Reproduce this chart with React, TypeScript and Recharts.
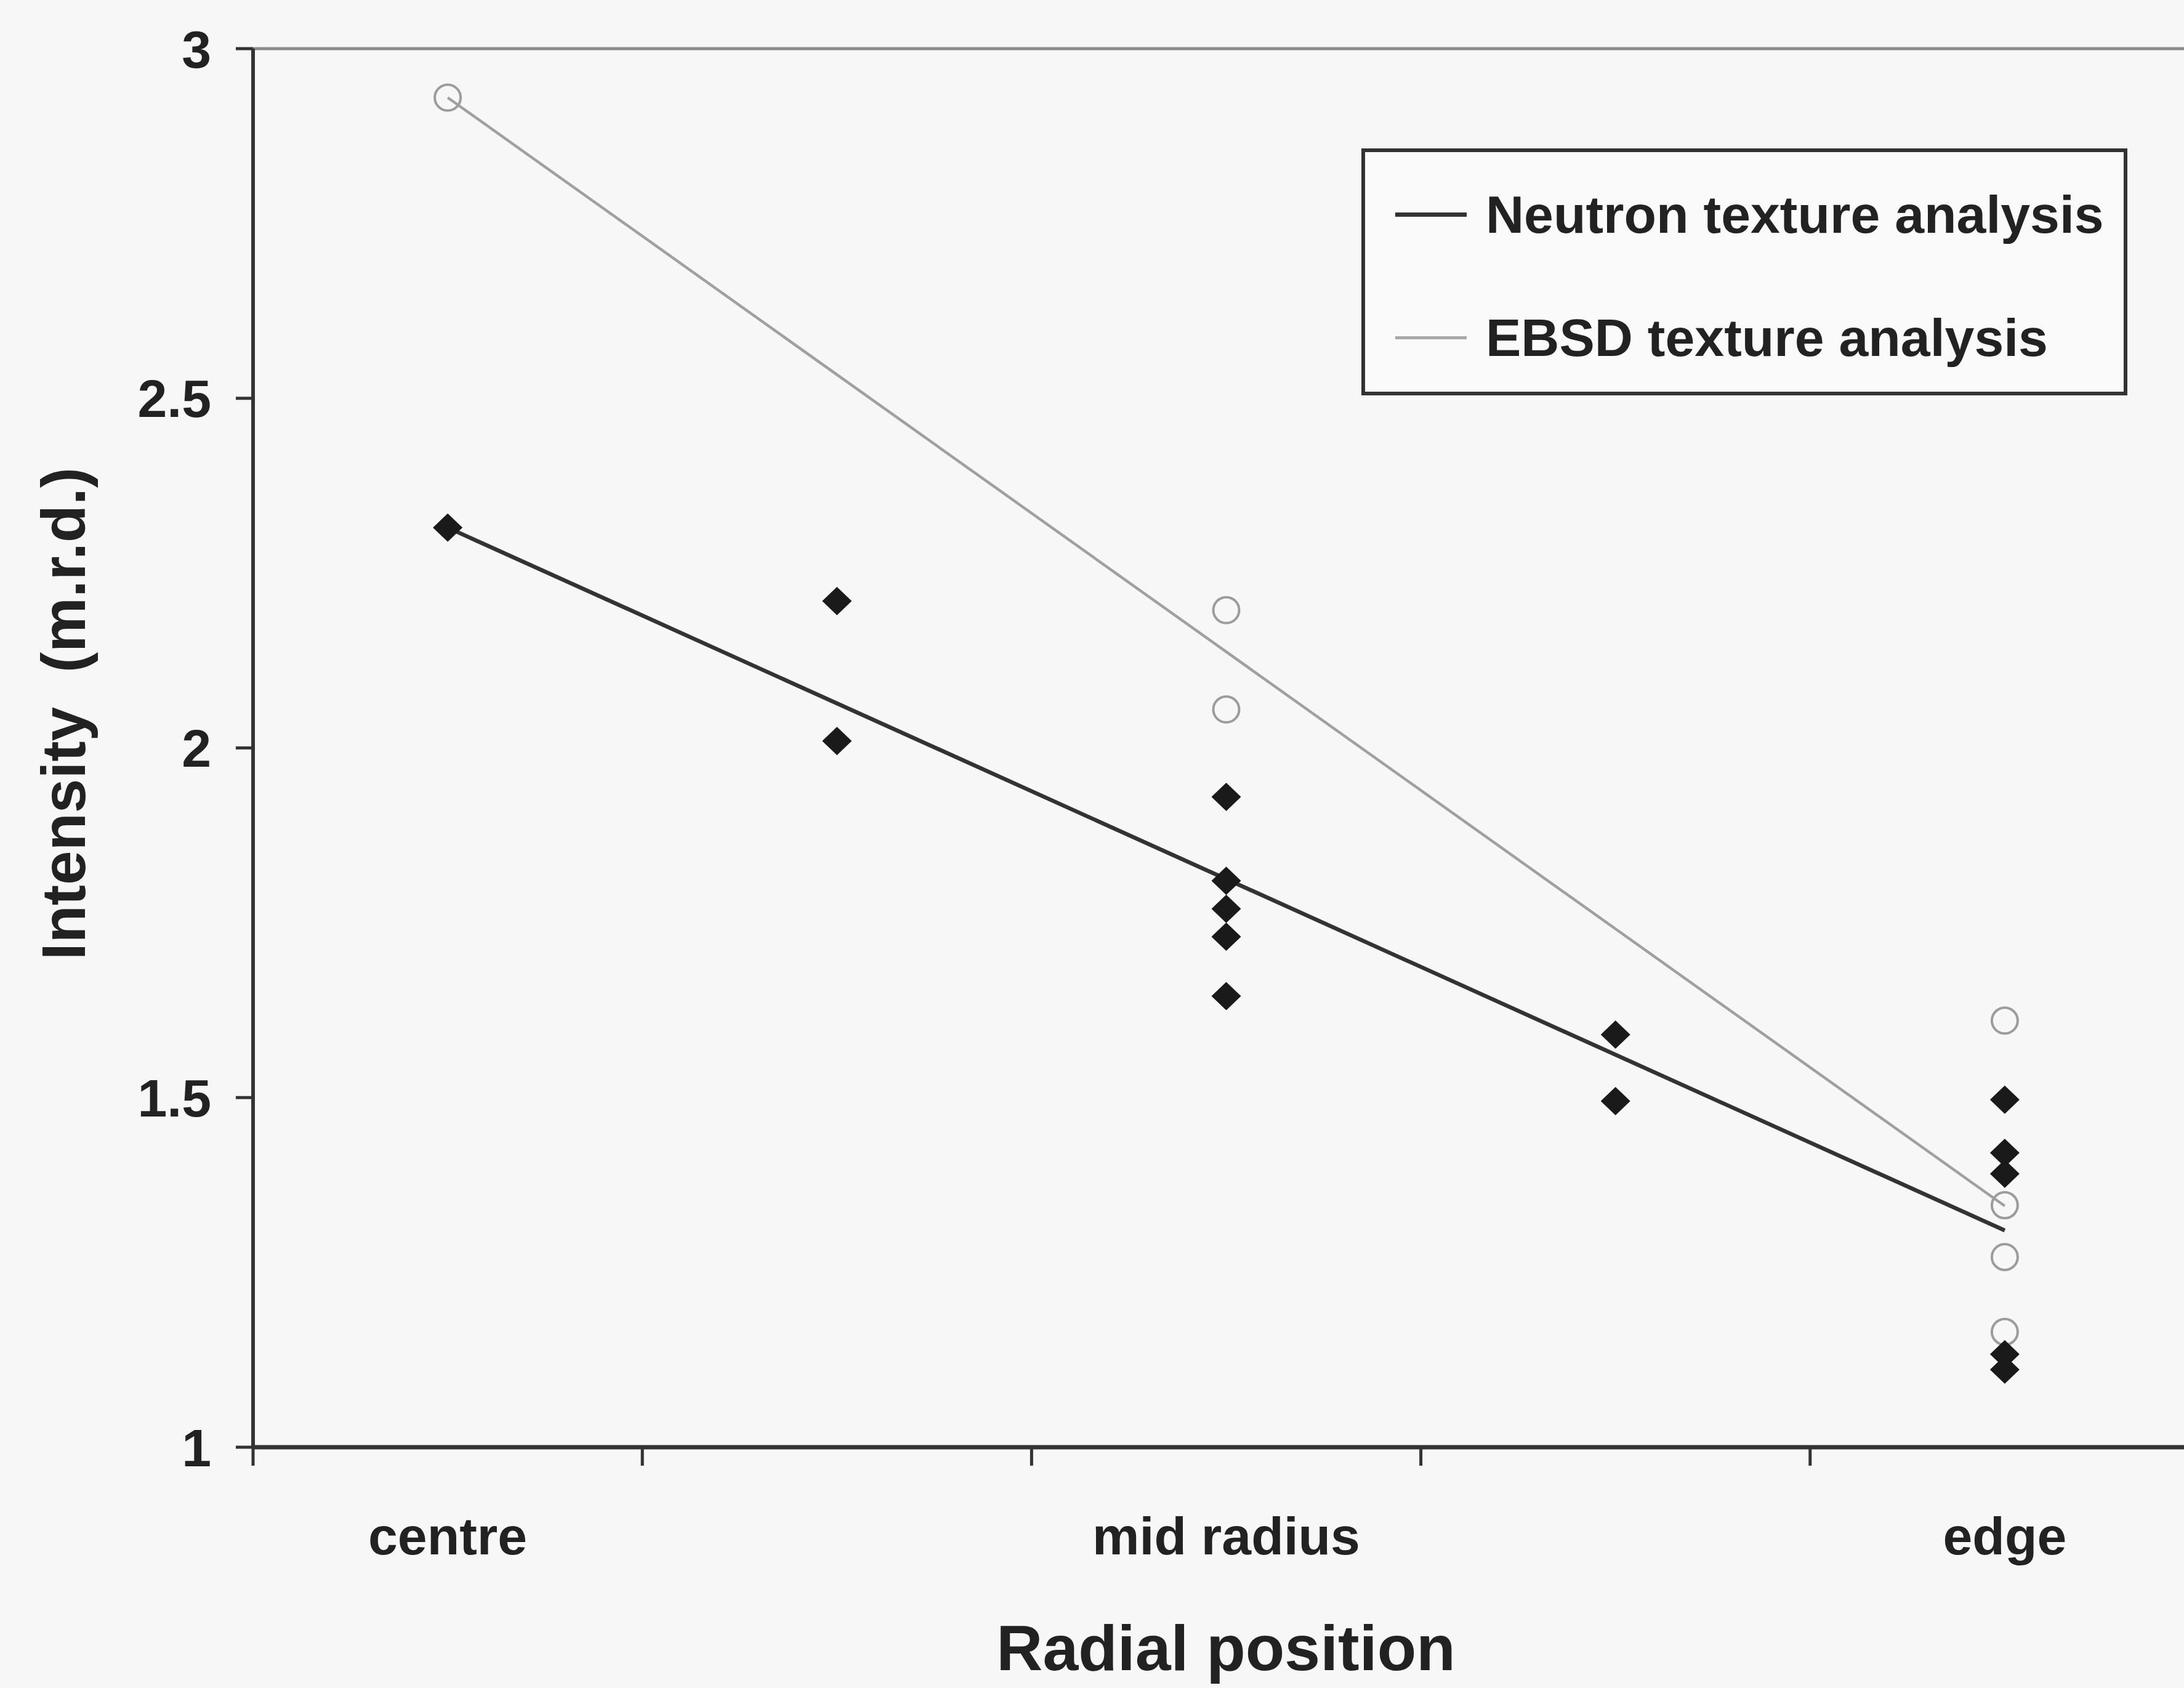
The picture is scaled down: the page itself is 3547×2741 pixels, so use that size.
import { ComposedChart, Line, Scatter, XAxis, YAxis, ReferenceLine, Legend } from 'recharts'

const FONT = '"Liberation Sans", Arial, sans-serif'

// category slots along the radial axis (Excel style: labels between tick marks)
const categories = ['centre', '', 'mid radius', '', 'edge']
const categoryPositions = [0.5, 1.5, 2.5, 3.5, 4.5]
const xTicks = [0, 0.5, 1, 2, 2.5, 3, 4, 4.5, 5]
const yTicks = [1, 1.5, 2, 2.5, 3]

// measured intensities per slot
const neutronValues = [
    [2.315],
    [2.21, 2.01],
    [1.93, 1.81, 1.77, 1.73, 1.645],
    [1.59, 1.495],
    [1.497, 1.421, 1.391, 1.133, 1.111],
]
const ebsdValues = [
    [2.93],
    [],
    [2.197, 2.055],
    [],
    [1.61, 1.346, 1.272, 1.165],
]

// trend lines, centre -> edge
const trendPositions = [0.5, 4.5]
const neutronTrend = [2.315, 1.31]
const ebsdTrend = [2.93, 1.345]

const toPoints = (values: number[][]) =>
    categoryPositions.flatMap((x, i) => values[i].map((y) => ({ x, y })))

const neutronPoints = toPoints(neutronValues)
const ebsdPoints = toPoints(ebsdValues)
const neutronLine = trendPositions.map((x, i) => ({ x, y: neutronTrend[i] }))
const ebsdLine = trendPositions.map((x, i) => ({ x, y: ebsdTrend[i] }))

const legendItems = [
    { label: 'Neutron texture analysis', color: '#333', width: 7 },
    { label: 'EBSD texture analysis', color: '#a8a8a8', width: 5 },
]

function Diamond(props: any) {
    const { cx, cy } = props
    return (
        <polygon
            points={`${cx},${cy - 23} ${cx + 24},${cy} ${cx},${cy + 23} ${cx - 24},${cy}`}
            fill="#1a1a1a"
        />
    )
}

function OpenCircle(props: any) {
    const { cx, cy } = props
    return <circle cx={cx} cy={cy} r={21} fill="none" stroke="#9c9c9c" strokeWidth={4} />
}

function XTick(props: any) {
    const { x, y, payload } = props
    const v = payload.value
    if (Number.isInteger(v)) {
        return <line x1={x} y1={y} x2={x} y2={y + 30} stroke="#333" strokeWidth={5} />
    }
    const idx = categoryPositions.indexOf(v)
    return (
        <text x={x} y={y + 174} textAnchor="middle" fontSize={86} fontWeight={700} fill="#222" fontFamily={FONT}>
            {categories[idx]}
        </text>
    )
}

function LegendBox() {
    return (
        <div
            style={{
                boxSizing: 'border-box',
                width: '100%',
                height: '100%',
                border: '6px solid #333',
                background: '#fafafa',
                position: 'relative',
                fontFamily: FONT,
            }}
        >
            {legendItems.map((item, i) => (
                <div
                    key={item.label}
                    style={{
                        position: 'absolute',
                        left: 49,
                        top: 101 + i * 200 - 50,
                        height: 100,
                        display: 'flex',
                        alignItems: 'center',
                        whiteSpace: 'nowrap',
                    }}
                >
                    <div style={{ width: 116, height: item.width, background: item.color, marginRight: 31 }} />
                    <span style={{ fontSize: 86, fontWeight: 700, color: '#222' }}>{item.label}</span>
                </div>
            ))}
        </div>
    )
}

export default function App() {
    return (
        <div
            style={{
                position: 'fixed',
                left: 0,
                top: 0,
                width: 3547,
                height: 2741,
                overflow: 'hidden',
                background: '#f7f7f7',
            }}
        >
            <ComposedChart width={3600} height={2741} margin={{ top: 79, right: 28, bottom: 91, left: 111 }}>
                <XAxis
                    type="number"
                    dataKey="x"
                    domain={[0, 5]}
                    ticks={xTicks}
                    interval={0}
                    height={300}
                    tickLine={false}
                    tickSize={0}
                    tickMargin={0}
                    tick={<XTick />}
                    axisLine={{ stroke: '#333', strokeWidth: 7 }}
                    label={{
                        content: () => (
                            <text x={1991} y={2712} textAnchor="middle" fontSize={104} fontWeight={700} fill="#222" fontFamily={FONT}>
                                Radial position
                            </text>
                        ),
                    }}
                />
                <YAxis
                    type="number"
                    dataKey="y"
                    domain={[1, 3]}
                    ticks={yTicks}
                    interval={0}
                    width={300}
                    tickSize={28}
                    tickMargin={40}
                    tickLine={{ stroke: '#333', strokeWidth: 5 }}
                    axisLine={{ stroke: '#333', strokeWidth: 6 }}
                    tick={{ fontSize: 86, fontWeight: 700, fill: '#222', fontFamily: FONT }}
                    label={{
                        content: () => (
                            <text
                                transform="translate(138,1159) rotate(-90)"
                                textAnchor="middle"
                                fontSize={100}
                                fontWeight={700}
                                fill="#222"
                                fontFamily={FONT}
                            >
                                {'Intensity\u00a0\u00a0(m.r.d.)'}
                            </text>
                        ),
                    }}
                />
                <ReferenceLine y={3} stroke="#8a8a8a" strokeWidth={5} />
                <Legend
                    layout="horizontal"
                    verticalAlign="middle"
                    align="center"
                    content={() => <LegendBox />}
                    wrapperStyle={{ left: 2211, top: 241, width: 1244, height: 401, margin: 0 }}
                />
                <Line
                    data={ebsdLine}
                    dataKey="y"
                    name="EBSD texture analysis"
                    stroke="#a0a0a0"
                    strokeWidth={4.5}
                    dot={false}
                    isAnimationActive={false}
                />
                <Line
                    data={neutronLine}
                    dataKey="y"
                    name="Neutron texture analysis"
                    stroke="#333"
                    strokeWidth={6.5}
                    dot={false}
                    isAnimationActive={false}
                />
                <Scatter data={ebsdPoints} dataKey="y" shape={<OpenCircle />} legendType="none" isAnimationActive={false} />
                <Scatter data={neutronPoints} dataKey="y" shape={<Diamond />} legendType="none" isAnimationActive={false} />
            </ComposedChart>
        </div>
    )
}
